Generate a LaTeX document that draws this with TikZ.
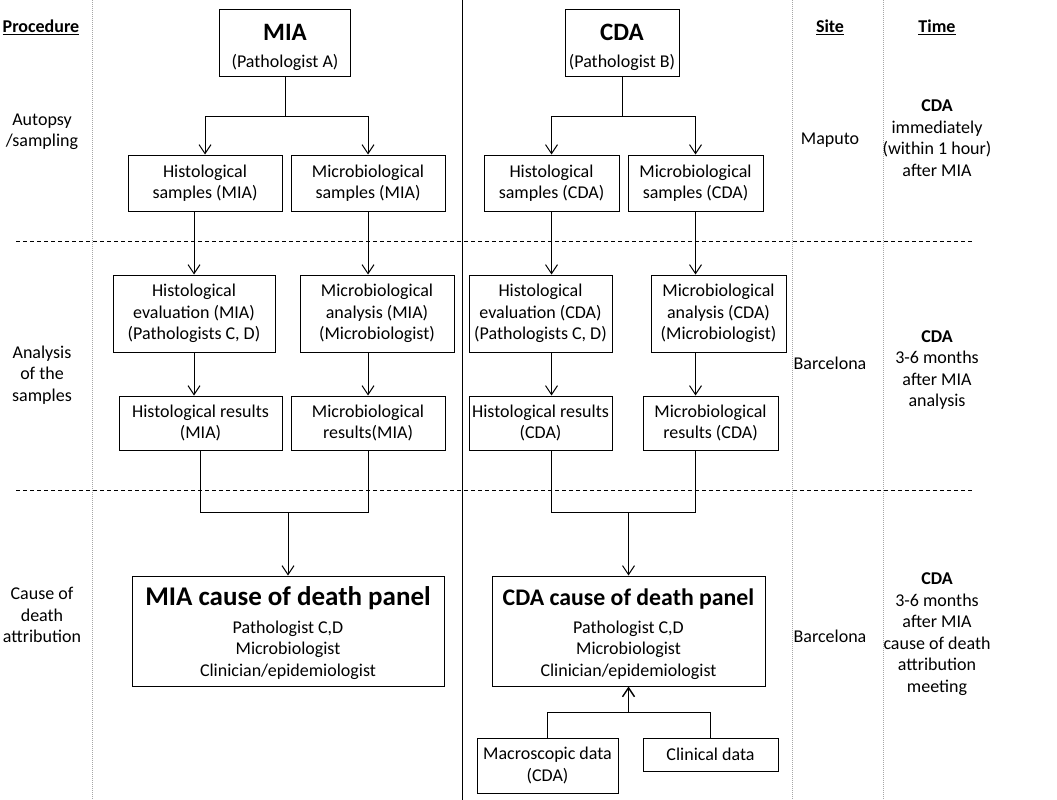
\documentclass[tikz,border=0pt]{standalone}
\usepackage{fontspec}
\setmainfont{Carlito}
\usepackage{tikz}
\usetikzlibrary{arrows.meta}
\usetikzlibrary{positioning}
\tikzset{>={Straight Barb[length=9pt,width=12pt]}}

\begin{document}
\begin{tikzpicture}[x=1pt, y=-1pt, line width=1pt, font=\fontsize{18}{21.5}\selectfont,
	box/.style 2 args = {draw, align=center, inner sep=0pt, minimum width=#1pt, minimum height=#2pt},
	lbl/.style = {align=center, inner sep=0pt},
	sep/.style = {draw=gray!70, dash pattern=on 1pt off 1pt},
	zone/.style = {dash pattern=on 4pt off 3pt}]
	\useasboundingbox (0,0) rectangle (1057,800);
	\draw[sep] (92,0) -- (92,800);
	\draw[sep] (792,0) -- (792,800);
	\draw[sep] (883,0) -- (883,800);
	\draw (462,0) -- (462,800);
	\draw[zone] (16,241) -- (972,241);
	\draw[zone] (16,490) -- (972,490);
	\node[lbl] (hproc) at (41,27) {\underline{\textbf{Procedure}}};
	\node[lbl] (hsite) at (830,27) {\underline{\textbf{Site}}};
	\node[lbl] (htime) at (937,27) {\underline{\textbf{Time}}};
	\node[lbl] (pauto) at (42,132) {Autopsy\\/sampling};
	\node[lbl] (pana) at (42,375) {Analysis\\of the\\samples};
	\node[lbl] (pcod) at (42,615) {Cause of\\death\\attribution};
	\node[lbl] (smap) at (830,140) {Maputo};
	\node[lbl] (sbar) at (830,363) {Barcelona};
	\node[lbl] (sbar2) at (830,636) {Barcelona};
	\node[lbl] (tauto) at (937,138) {\textbf{CDA}\\immediately\\(within 1 hour)\\after MIA};
	\node[lbl] (tana) at (937,370) {\textbf{CDA}\\3-6 months\\after MIA\\analysis};
	\node[lbl] (tcod) at (937,634) {\textbf{CDA}\\3-6 months\\after MIA\\cause of death\\attribution\\meeting};
	\node[box={131}{66}] (mia) at (285,43) {\rule{0pt}{25pt}{\fontsize{25}{30}\selectfont\bfseries MIA}\\[6pt](Pathologist A)};
	\node[box={114}{66}] (cda) at (622,43) {\rule{0pt}{25pt}{\fontsize{25}{30}\selectfont\bfseries CDA}\\[6pt](Pathologist B)};
	\node[box={154}{56}] (hsm) at (205,183) {Histological\\samples (MIA)};
	\node[box={154}{56}] (msm) [right=8pt of hsm] {Microbiological\\samples (MIA)};
	\node[box={135}{56}] (hsc) at (551.5,183) {Histological\\samples (CDA)};
	\node[box={135}{56}] (msc) [right=8pt of hsc] {Microbiological\\samples (CDA)};
	\node[box={162}{77}] (hem) at (194,313.5) {Histological\\evaluation (MIA)\\(Pathologists C, D)};
	\node[box={154}{77}] (mam) [right=24pt of hem] {Microbiological\\analysis (MIA)\\(Microbiologist)};
	\node[box={143}{77}] (hec) at (540.5,313.5) {Histological\\evaluation (CDA)\\(Pathologists C, D)};
	\node[box={135}{77}] (mac) [right=38pt of hec] {Microbiological\\analysis (CDA)\\(Microbiologist)};
	\node[box={163}{54}] (hrm) at (200.5,423) {Histological results\\(MIA)};
	\node[box={154}{54}] (mrm) [right=8pt of hrm] {Microbiological\\results(MIA)};
	\node[box={143}{54}] (hrc) at (540.5,423) {Histological results\\(CDA)};
	\node[box={135}{54}] (mrc) [right=30pt of hrc] {Microbiological\\results (CDA)};
	\node[box={312}{110}] (pnm) at (288,631) {\rule{0pt}{23pt}{\fontsize{27}{32}\selectfont\bfseries MIA cause of death panel}\\[6pt]Pathologist C,D\\Microbiologist\\Clinician/epidemiologist};
	\node[box={273}{110}] (pnc) at (628.5,631) {\rule{0pt}{23pt}{\fontsize{23.8}{28}\selectfont\bfseries CDA cause of death panel}\\[6pt]Pathologist C,D\\Microbiologist\\Clinician/epidemiologist};
	\node[box={141}{55}] (mdc) at (547.5,765.5) {Macroscopic data\\(CDA)};
	\node[box={135}{33}] (cdc) [right=24pt of mdc.north east, anchor=north west] {Clinical data};
	\draw (mia.south) -- ++(0,40) coordinate (mf);
	\draw[->] (mf) -| (hsm.north);
	\draw[->] (mf) -| (msm.north);
	\draw (cda.south) -- ++(0,40) coordinate (cf);
	\draw[->] (cf) -| (hsc.north);
	\draw[->] (cf) -| (msc.north);
	\draw[->] (hem |- hsm.south) -- (hem.north);
	\draw[->] (hem.south) -- (hem |- hrm.north);
	\draw[->] (msm.south) -- (msm |- mam.north);
	\draw[->] (mrm |- mam.south) -- (mrm.north);
	\draw[->] (hsc.south) -- (hsc |- hec.north);
	\draw[->] (hsc |- hec.south) -- (hsc |- hrc.north);
	\draw[->] (msc.south) -- (msc |- mac.north);
	\draw[->] (msc |- mac.south) -- (msc |- mrc.north);
	\draw (hrm.south) -- ++(0,62) coordinate (mj) -| (mrm.south);
	\draw[->] (mj -| pnm.north) -- (pnm.north);
	\draw (hsc |- hrc.south) -- ++(0,62) coordinate (cj) -| (msc |- mrc.south);
	\draw[->] (cj -| pnc.north) -- (pnc.north);
	\draw (mdc.north) -- ++(0,-25) coordinate (bj) -| (cdc.north);
	\draw[->, line width=1.4pt] (bj -| pnc.south) -- (pnc.south);
\end{tikzpicture}
\end{document}
